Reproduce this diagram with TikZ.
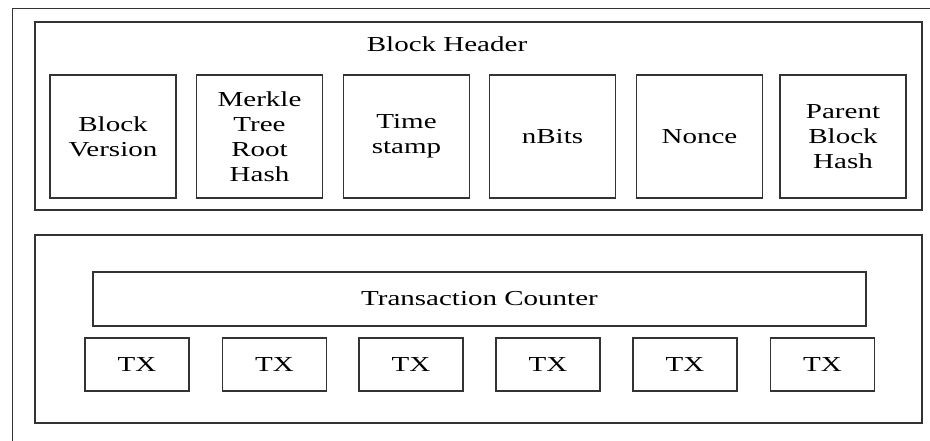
\documentclass[tikz,border=0pt]{standalone}
\usepackage{fontspec}
\setmainfont{Liberation Serif}[FakeStretch=1.36]

\tikzset{every picture/.style={line width=0.75pt}}
\tikzset{
  frame/.style={draw=black!80, line width=1.3pt, minimum width=665.25pt, minimum height=141pt, inner sep=0pt},
  field/.style={draw=black!80, line width=1.3pt, minimum width=94.5pt, minimum height=92.25pt, inner sep=0pt, align=center, font=\fontsize{16}{18.75}\selectfont},
  txbox/.style={draw=black!80, line width=1.3pt, minimum width=78pt, minimum height=39.75pt, inner sep=0pt, font=\fontsize{16}{18.75}\selectfont},
}

\begin{document}
\begin{tikzpicture}[x=0.75pt,y=0.75pt,yscale=-1,xscale=1]

\useasboundingbox (0,0) rectangle (930,441);

\draw  [draw=black!80, line width=1.3pt]  (12.5,441) -- (12.5,8.5) -- (930,8.5) ;

\node [frame] (header) at (478.5,116) {};
\node [frame] (body) at (478.5,329) {};

\draw (447,44) node [font=\fontsize{16}{18.75}\selectfont] (title)  {Block Header};

\node [field] (version) at (113,136.5) {Block\\Version};
\node [field] (merkle) at (259.5,136.5) {Merkle\\Tree\\Root\\Hash};
\node [field] (time) at (406.5,136.5) {Time\\stamp};
\node [field] (nbits) at (552.5,136.5) {nBits};
\node [field] (nonce) at (699.5,136.5) {Nonce};
\node [field] (parent) at (843,136.5) {Parent\\Block\\Hash};

\node [txbox, minimum width=579.75pt, minimum height=40.5pt] (counter) at (479.5,299) {Transaction Counter};

\node [txbox] (tx1) at (137,364.5) {TX};
\node [txbox] (tx2) at (274.5,364.5) {TX};
\node [txbox] (tx3) at (411,364.5) {TX};
\node [txbox] (tx4) at (548,364.5) {TX};
\node [txbox] (tx5) at (685,364.5) {TX};
\node [txbox] (tx6) at (822.5,364.5) {TX};

\end{tikzpicture}
\end{document}
